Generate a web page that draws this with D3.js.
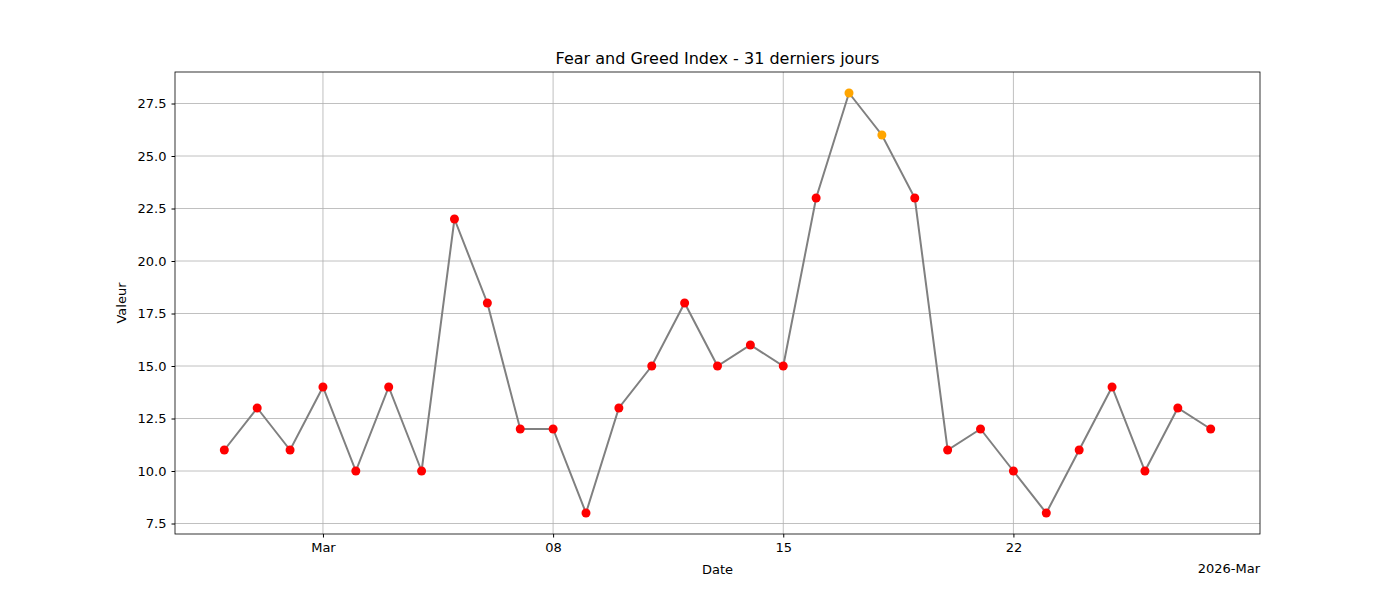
<!DOCTYPE html>
<html><head><meta charset="utf-8">
<script src="https://cdn.jsdelivr.net/npm/d3@7"></script>
<style>body{margin:0;background:#fff}text{font-family:"DejaVu Sans",sans-serif}</style>
</head><body><svg id="c" width="1400" height="600"></svg>
<script>
const startDate = "2026-02-26";
const values = [11,13,11,14,10,14,10,22,18,12,12,8,13,15,18,15,16,15,23,28,26,23,11,12,10,8,11,14,10,13,12];
const yTicks = [7.5,10,12.5,15,17.5,20,22.5,25,27.5];
const xTickDates = ["2026-03-01","2026-03-08","2026-03-15","2026-03-22"];
const xTickLabels = ["Mar","08","15","22"];

const day = 864e5;
const t0 = new Date(startDate+"T00:00:00Z").getTime();
const data = values.map((v,i)=>({d:new Date(t0+i*day), v}));
const svg = d3.select("#c");
const L=175,R=1260,T=72,B=534;
const x = d3.scaleUtc().domain([new Date(t0-1.5*day), new Date(t0+31.5*day)]).range([L,R]);
const y = d3.scaleLinear().domain([7,29]).range([B,T]);
const g = svg.append("g");
xTickDates.forEach(s=>{const xx=x(new Date(s+"T00:00:00Z"));g.append("line").attr("x1",xx).attr("x2",xx).attr("y1",T).attr("y2",B).attr("stroke","#b0b0b0").attr("stroke-width",0.8);});
yTicks.forEach(v=>{g.append("line").attr("x1",L).attr("x2",R).attr("y1",y(v)).attr("y2",y(v)).attr("stroke","#b0b0b0").attr("stroke-width",0.8);});
const xa = d3.axisBottom(x).tickValues(xTickDates.map(s=>new Date(s+"T00:00:00Z"))).tickFormat((d,i)=>xTickLabels[i]).tickSizeOuter(0).tickSize(3.5).tickPadding(5);
const ya = d3.axisLeft(y).tickValues(yTicks).tickFormat(d3.format(".1f")).tickSizeOuter(0).tickSize(3.5).tickPadding(5);
svg.append("g").attr("transform",`translate(0,${B})`).call(xa).call(s=>s.select(".domain").remove()).selectAll("text").attr("font-size",13).attr("fill","#000");
svg.append("g").attr("transform",`translate(${L},0)`).call(ya).call(s=>s.select(".domain").remove()).selectAll("text").attr("font-size",13).attr("fill","#000");
svg.append("rect").attr("x",L).attr("y",T).attr("width",R-L).attr("height",B-T).attr("fill","none").attr("stroke","#000").attr("stroke-width",0.8);
svg.append("path").datum(data).attr("d",d3.line().x(d=>x(d.d)).y(d=>y(d.v))).attr("fill","none").attr("stroke","gray").attr("stroke-width",2);
svg.selectAll("circle").data(data).join("circle").attr("cx",d=>x(d.d)).attr("cy",d=>y(d.v)).attr("r",4.5)
  .attr("fill",d=>d.v>=25?"orange":"red");
svg.append("text").attr("x",(L+R)/2).attr("y",64).attr("text-anchor","middle").attr("font-size",16).text("Fear and Greed Index - 31 derniers jours");
svg.append("text").attr("x",(L+R)/2).attr("y",574).attr("text-anchor","middle").attr("font-size",13).text("Date");
svg.append("text").attr("x",R).attr("y",573).attr("text-anchor","end").attr("font-size",13).text("2026-Mar");
svg.append("text").attr("transform",`translate(126,${(T+B)/2}) rotate(-90)`).attr("text-anchor","middle").attr("font-size",13).text("Valeur");
</script></body></html>
